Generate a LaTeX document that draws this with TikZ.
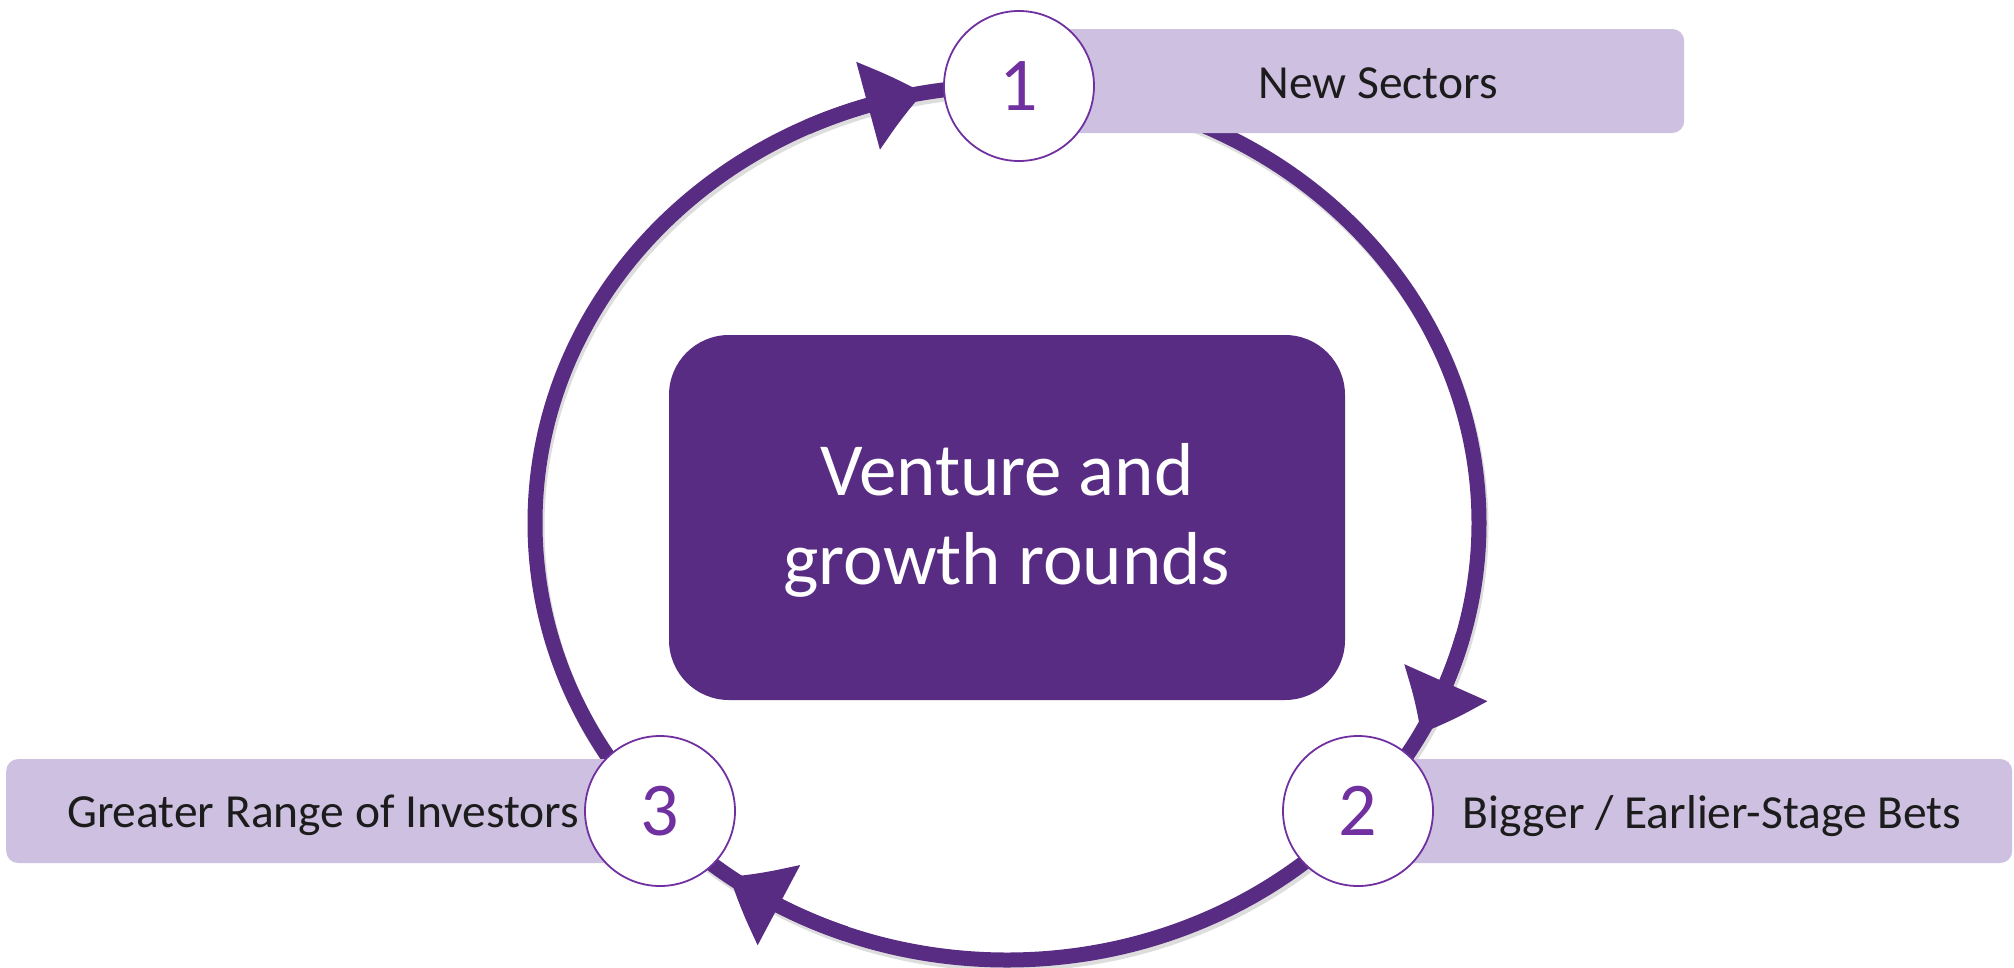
\documentclass[tikz,border=0pt]{standalone}
\usepackage{fontspec}
\setmainfont{Carlito}
\usetikzlibrary{arrows.meta,bending,calc}
\definecolor{ringpurple}{HTML}{582C83}
\definecolor{numpurple}{HTML}{7030A0}
\definecolor{barlav}{HTML}{CDC0E0}
\definecolor{txtdark}{HTML}{1C1C1C}
\definecolor{shadowgray}{HTML}{DDDDDD}
\tikzset{
  ring/.style={draw=ringpurple, line width=15pt},
  ringshadow/.style={draw=shadowgray, line width=15pt},
  arrowtip/.style={-{Triangle[length=57pt,width=87pt,bend]}},
  centerbox/.style={fill=ringpurple, rounded corners=60pt, minimum width=676pt, minimum height=365pt, inner sep=0pt},
  bar/.style={fill=barlav, rounded corners=12pt, inner sep=0pt, minimum height=104pt},
  stepcircle/.style={circle, draw=numpurple, line width=1.8pt, fill=white, minimum size=150pt, inner sep=0pt, text=numpurple, font=\fontsize{76}{76}\selectfont},
  bartext/.style={text=txtdark, font=\fontsize{47.5}{56}\selectfont, anchor=base, inner sep=0pt},
}
\begin{document}
\begin{tikzpicture}[x=1pt,y=1pt]
\useasboundingbox (0,0) rectangle (2014,-967);
\fill[white] (0,0) rectangle (2014,-967);
\coordinate (O) at (1007,-523);
% shadow of ring
\draw[ringshadow] ($(O)+(2,-4)$) ellipse [x radius=472, y radius=437];
% ring
\draw[ring] (O) ellipse [x radius=472, y radius=437];
% arrow tips along the ring
\draw[ring, arrowtip] ($(O)+(115:472 and 437)$) coordinate (a1s) arc[start angle=115, end angle=100.2, x radius=472, y radius=437] coordinate (a1e);
\draw[ring, arrowtip] ($(O)+(-15:472 and 437)$) coordinate (a2s) arc[start angle=-15, end angle=-28.8, x radius=472, y radius=437] coordinate (a2e);
\draw[ring, arrowtip] ($(O)+(-110:472 and 437)$) coordinate (a3s) arc[start angle=-110, end angle=-126, x radius=472, y radius=437] coordinate (a3e);
% center box
\node[centerbox] (center) at (1007,-517.5) {};
\node[text=white, align=center, font=\fontsize{75}{89}\selectfont] (centertext) at (1007,-520) {Venture and\\growth rounds};
% bars
\node[bar, minimum width=665pt, anchor=west] (bar1) at (1019,-81) {};
\node[bar, minimum width=654pt, anchor=west] (bar2) at (1358,-811) {};
\node[bar, minimum width=654pt, anchor=west] (bar3) at (6,-811) {};
% circles
\node[stepcircle] (n1) at (1019,-86) {1};
\node[stepcircle] (n2) at (1358,-811) {2};
\node[stepcircle] (n3) at (660,-811) {3};
% labels
\node[bartext] (lab1) at (1378,-98) {New Sectors};
\node[bartext] (lab2) at (1712,-828) {Bigger / Earlier-Stage Bets};
\node[bartext] (lab3) at (323,-827) {Greater Range of Investors};
\end{tikzpicture}
\end{document}
